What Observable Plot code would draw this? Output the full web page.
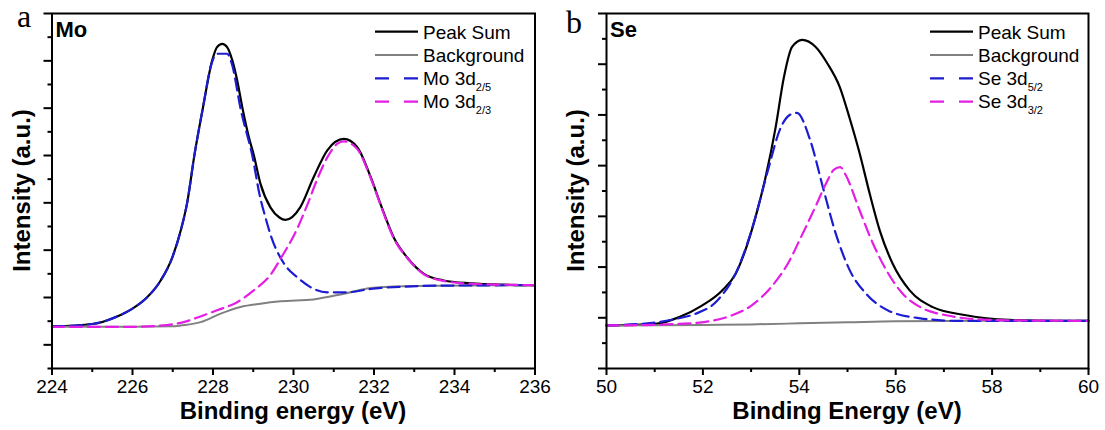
<!DOCTYPE html>
<html><head><meta charset="utf-8">
<script src="https://cdn.jsdelivr.net/npm/d3@7"></script>
<script src="https://cdn.jsdelivr.net/npm/@observablehq/plot@0.6"></script>
<style>
body{margin:0;background:#fff;}
#wrap{display:flex;width:1105px;height:430px;}
#wrap svg{overflow:visible;display:block;}
</style></head><body><div id="wrap"></div>
<script>
// ---- Panel a: Mo 3d ----
const moPeakSum = [[224.00,0.39],[225.00,0.44],[225.62,0.60],[225.99,0.76],[226.37,1.01],[226.70,1.36],[226.99,1.85],[227.20,2.42],[227.36,3.01],[227.54,4.02],[227.75,5.01],[227.98,6.01],[228.10,6.29],[228.23,6.36],[228.35,6.29],[228.48,6.01],[228.60,5.59],[228.73,5.01],[228.89,4.39],[229.01,4.02],[229.18,3.40],[229.43,2.90],[229.65,2.69],[229.80,2.64],[230.17,2.91],[230.50,3.54],[230.84,4.11],[231.25,4.35],[231.58,4.18],[231.92,3.54],[232.16,2.98],[232.49,2.27],[232.82,1.85],[233.24,1.50],[233.73,1.36],[234.40,1.30],[235.22,1.27],[236.00,1.26]];
const moBackground = [[224.00,0.38],[226.00,0.38],[227.00,0.39],[227.20,0.41],[227.69,0.48],[228.19,0.66],[228.68,0.80],[229.18,0.87],[229.68,0.92],[230.50,0.96],[231.25,1.08],[231.91,1.20],[232.74,1.24],[233.57,1.25],[236.00,1.26]];
const moComp1 = [[224.00,0.39],[225.00,0.44],[225.62,0.60],[225.99,0.76],[226.37,1.01],[226.70,1.36],[226.99,1.85],[227.20,2.42],[227.36,3.01],[227.54,4.02],[227.75,5.01],[227.95,5.90],[228.10,6.15],[228.35,6.15],[228.48,5.90],[228.68,5.01],[229.00,3.90],[229.15,3.20],[229.30,2.70],[229.46,2.25],[229.65,1.88],[229.82,1.65],[230.09,1.43],[230.42,1.22],[230.84,1.11],[231.33,1.11],[231.91,1.18],[232.74,1.23],[233.57,1.25],[236.00,1.26]];
const moComp2 = [[224.00,0.38],[226.00,0.38],[226.60,0.40],[227.27,0.48],[227.69,0.60],[228.10,0.73],[228.60,0.90],[229.01,1.15],[229.43,1.48],[229.70,1.85],[230.09,2.45],[230.34,2.95],[230.59,3.50],[230.84,3.96],[231.09,4.25],[231.25,4.30],[231.58,4.14],[231.92,3.52],[232.16,2.96],[232.49,2.25],[232.82,1.84],[233.24,1.49],[233.73,1.35],[234.40,1.29],[235.22,1.27],[236.00,1.26]];
const moXTicks = [224,226,228,230,232,234,236];
const moXMinor = [225,227,229,231,233,235];
const moYMajor = [0,1,2,3,4,5,6,7];
const moYMinor = [-0.5,0.5,1.5,2.5,3.5,4.5,5.5,6.5];
const moLegend = ["Peak Sum","Background","Mo 3d","Mo 3d"];
const moLegendSub = ["","","2/5","2/3"];

// ---- Panel b: Se 3d ----
const sePeakSum = [[50.00,0.85],[51.02,0.88],[51.50,1.01],[51.98,1.24],[52.40,1.54],[52.68,1.87],[52.88,2.33],[53.09,2.98],[53.30,3.77],[53.51,4.76],[53.68,5.74],[53.85,6.34],[54.06,6.48],[54.34,6.34],[54.58,6.02],[54.84,5.55],[55.04,4.95],[55.25,4.25],[55.46,3.45],[55.67,2.72],[55.94,2.06],[56.29,1.54],[56.77,1.21],[57.46,1.05],[58.35,0.96],[59.38,0.94],[60.00,0.94]];
const seBackground = [[50.00,0.85],[52.00,0.86],[53.00,0.87],[54.00,0.89],[55.00,0.91],[56.00,0.93],[58.00,0.94],[60.00,0.94]];
const seComp1 = [[50.00,0.85],[50.95,0.90],[51.50,0.99],[51.85,1.08],[52.29,1.33],[52.73,1.98],[53.03,2.79],[53.33,3.84],[53.62,4.76],[53.80,5.00],[53.95,5.04],[54.22,4.52],[54.51,3.50],[54.75,2.68],[55.04,1.95],[55.40,1.46],[55.85,1.14],[56.51,0.99],[57.26,0.94],[58.00,0.94],[60.00,0.94]];
const seComp2 = [[50.00,0.85],[51.00,0.86],[51.50,0.88],[51.98,0.91],[52.55,1.03],[53.02,1.25],[53.43,1.62],[53.77,2.08],[54.05,2.62],[54.34,3.20],[54.56,3.66],[54.72,3.92],[54.85,3.97],[54.96,3.82],[55.25,3.12],[55.53,2.46],[55.81,1.93],[56.15,1.47],[56.57,1.18],[57.05,1.05],[57.68,0.97],[58.35,0.95],[60.00,0.94]];
const seXTicks = [50,52,54,56,58,60];
const seXMinor = [51,53,55,57,59];
const seYMajor = [0,1,2,3,4,5,6,7];
const seYMinor = [0.5,1.5,2.5,3.5,4.5,5.5,6.5];
const seLegend = ["Peak Sum","Background","Se 3d","Se 3d"];
const seLegendSub = ["","","5/2","3/2"];

const colors = ["#000000","#808080","#1c1cd2","#e41ee4"];
const widths = [2.2,2,2.2,2.2];
const dashes = [null,null,"12,6","12,6"];
const FONT = "'Liberation Sans', Arial, sans-serif";

function panel(o) {
  const series = o.series;
  const marks = [];
  series.forEach((s, i) => {
    marks.push(Plot.line(s, {x: d => d[0], y: d => d[1], stroke: colors[i], strokeWidth: widths[i],
      strokeDasharray: dashes[i], curve: "monotone-x"}));
  });
  marks.push(
    Plot.axisX({ticks: o.xTicks, tickSize: 7, tickPadding: 4, fontSize: 19, strokeWidth: 2, label: null}),
    Plot.axisX({ticks: o.xMinor, tickSize: 4, tickFormat: () => "", strokeWidth: 2, label: null}),
    Plot.axisY({ticks: o.yMajor, tickSize: 8, tickFormat: () => "", strokeWidth: 2, label: null}),
    Plot.axisY({ticks: o.yMinor, tickSize: 4, tickFormat: () => "", strokeWidth: 2, label: null}),
    Plot.frame({stroke: "black", strokeWidth: 2})
  );
  const svg = Plot.plot({
    width: o.width, height: 430,
    marginLeft: o.ml, marginRight: o.mr, marginTop: 13, marginBottom: 62,
    x: {domain: o.xDomain},
    y: {domain: o.yDomain},
    style: {fontFamily: FONT, color: "black", background: "white", overflow: "visible"},
    marks
  });
  const g = d3.select(svg);
  const left = o.ml, right = o.width - o.mr, top = 13, bottom = 368;
  // axis titles
  g.append("text").attr("x", (left + right) / 2).attr("y", 419).attr("text-anchor", "middle")
    .attr("font-family", FONT).attr("font-weight", "bold").attr("font-size", 24).attr("fill", "black").text(o.xLabel);
  g.append("text").attr("transform", `translate(${o.yLabelX},${(top + bottom) / 2}) rotate(-90)`)
    .attr("text-anchor", "middle").attr("dy", "0.35em")
    .attr("font-family", FONT).attr("font-weight", "bold").attr("font-size", 24).attr("fill", "black").text("Intensity (a.u.)");
  // panel letter
  g.append("text").attr("x", o.letterX).attr("y", o.letterY).attr("text-anchor", "start")
    .attr("font-family", "'Liberation Serif', 'Times New Roman', serif")
    .attr("font-size", 32).attr("fill", "black").text(o.letter);
  // element label
  g.append("text").attr("x", left + 4).attr("y", 37).attr("text-anchor", "start")
    .attr("font-family", FONT).attr("font-weight", "bold")
    .attr("font-size", 22).attr("fill", "black").text(o.element);
  // legend
  o.legend.forEach((name, i) => {
    const cy = 31.7 + i * 23.3;
    g.append("line").attr("x1", o.legX).attr("x2", o.legX + 43).attr("y1", cy).attr("y2", cy)
      .attr("stroke", colors[i]).attr("stroke-width", widths[i])
      .attr("stroke-dasharray", dashes[i] ? "14,15" : null);
    const t = g.append("text").attr("x", o.legX + 48).attr("y", cy + 6.8).attr("text-anchor", "start")
      .attr("font-family", FONT).attr("font-size", 19).attr("fill", "black").text(name);
    if (o.legendSub[i]) t.append("tspan").attr("font-size", 11).attr("dy", 6).text(o.legendSub[i]);
  });
  return svg;
}

const wrap = document.getElementById("wrap");
wrap.appendChild(panel({
  width: 552, ml: 51.5, mr: 17.5, xDomain: [224, 236], yDomain: [-0.5, 7],
  series: [moPeakSum, moBackground, moComp1, moComp2],
  xTicks: moXTicks, xMinor: moXMinor, yMajor: moYMajor, yMinor: moYMinor,
  xLabel: "Binding energy (eV)", yLabelX: 22, letter: "a", letterX: 17, letterY: 27,
  element: "Mo", legend: moLegend, legendSub: moLegendSub, legX: 375
}));
wrap.appendChild(panel({
  width: 553, ml: 54, mr: 17, xDomain: [50, 60], yDomain: [0, 7],
  series: [sePeakSum, seBackground, seComp1, seComp2],
  xTicks: seXTicks, xMinor: seXMinor, yMajor: seYMajor, yMinor: seYMinor,
  xLabel: "Binding Energy (eV)", yLabelX: 24, letter: "b", letterX: 14, letterY: 33,
  element: "Se", legend: seLegend, legendSub: seLegendSub, legX: 378
}));
</script></body></html>
